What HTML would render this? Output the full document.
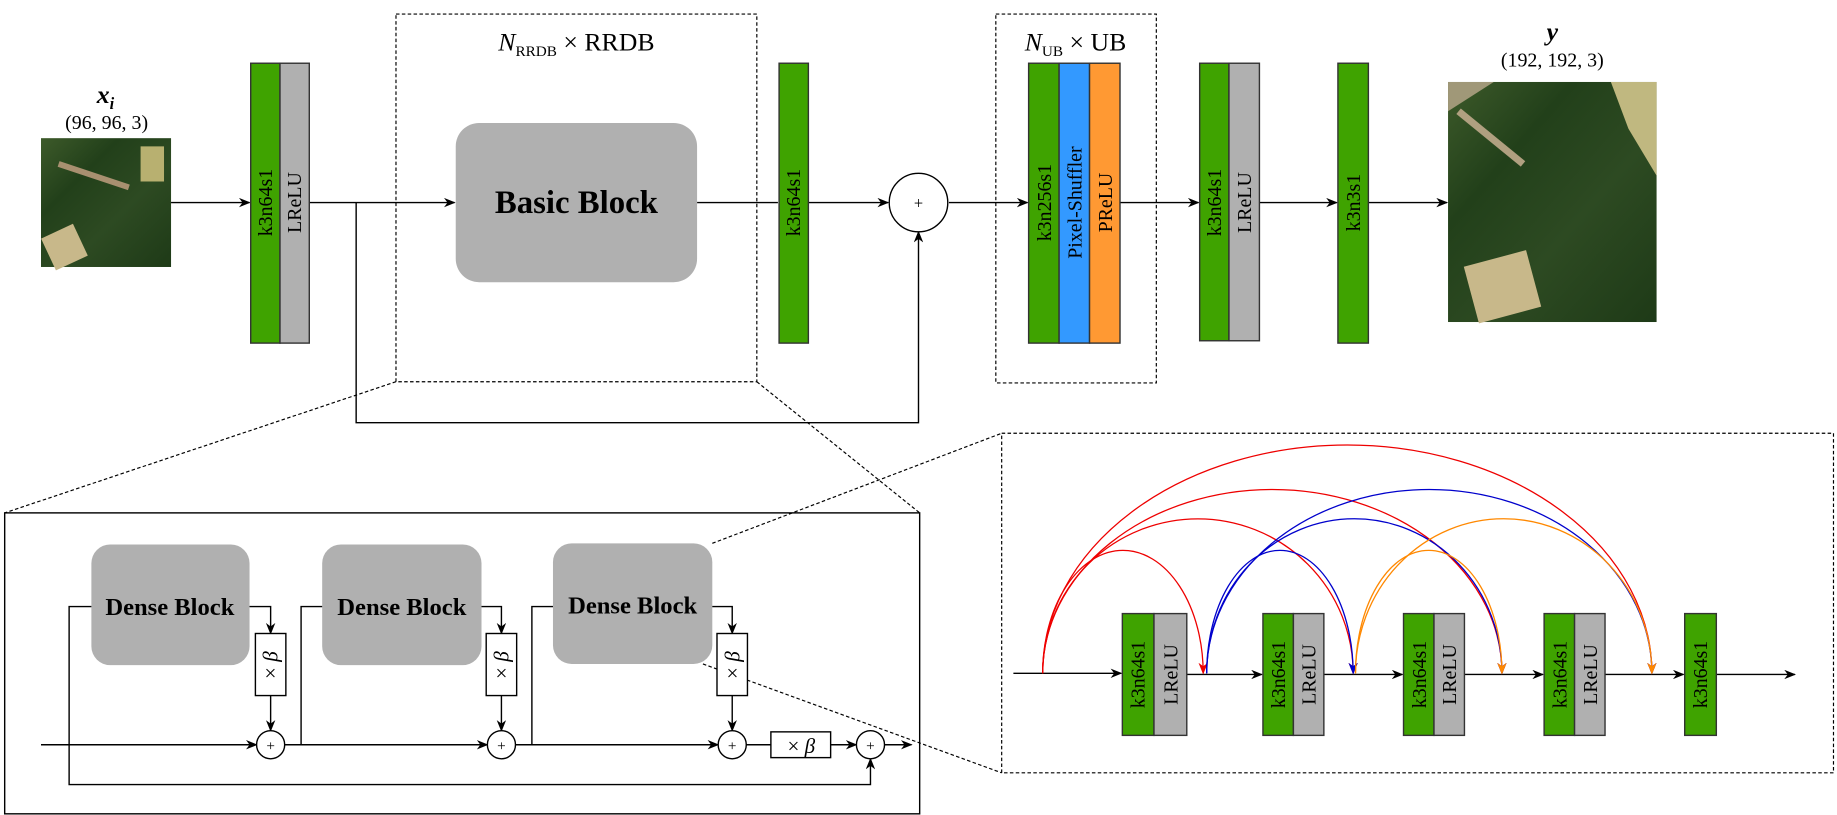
<!DOCTYPE html>
<html><head><meta charset="utf-8"><style>
body{margin:0;background:#fff}
svg{display:block}
text{font-family:"Liberation Serif",serif;fill:#000}
.lbl{font-size:17px}
</style></head><body>
<svg width="1837" height="815" viewBox="0 0 1568 696" preserveAspectRatio="none" xmlns="http://www.w3.org/2000/svg">
<defs>
<marker id="a" markerWidth="10" markerHeight="8" refX="9" refY="4" orient="auto" markerUnits="userSpaceOnUse"><path d="M0,0 L10,4 L0,8 L3,4 z" fill="#000"/></marker>
<marker id="ar" markerWidth="10" markerHeight="8" refX="9" refY="4" orient="auto" markerUnits="userSpaceOnUse"><path d="M0,0 L10,4 L0,8 L3,4 z" fill="#e00"/></marker>
<marker id="ab" markerWidth="10" markerHeight="8" refX="9" refY="4" orient="auto" markerUnits="userSpaceOnUse"><path d="M0,0 L10,4 L0,8 L3,4 z" fill="#00c"/></marker>
<marker id="ao" markerWidth="10" markerHeight="8" refX="9" refY="4" orient="auto" markerUnits="userSpaceOnUse"><path d="M0,0 L10,4 L0,8 L3,4 z" fill="#f80"/></marker>
<linearGradient id="img1" x1="0" y1="0" x2="1" y2="1"><stop offset="0" stop-color="#3d5a2a"/><stop offset="0.3" stop-color="#22401a"/><stop offset="0.6" stop-color="#2d4a22"/><stop offset="1" stop-color="#1e3a17"/></linearGradient>
</defs>
<g stroke="#000" stroke-width="1.2" fill="none">
<rect x="35" y="118" width="111" height="110" fill="url(#img1)" stroke="none"/>
<rect x="40" y="196" width="30" height="30" fill="#c8b88a" stroke="none" transform="rotate(-25 55 211)"/>
<path d="M50 140 L110 160" stroke="#a89070" stroke-width="5"/>
<rect x="120" y="125" width="20" height="30" fill="#b8b070" stroke="none"/>
<rect x="1236" y="70" width="178" height="205" fill="url(#img1)" stroke="none"/>
<rect x="1255" y="220" width="55" height="50" fill="#c8b88a" stroke="none" transform="rotate(-15 1282 245)"/>
<path d="M1245 95 L1300 140" stroke="#b0a080" stroke-width="6"/>
<path d="M1375 70 L1414 70 L1414 150 L1390 110 z" fill="#c0b880" stroke="none"/>
<path d="M1236 70 L1275 70 L1236 95 z" fill="#a09878" stroke="none"/>

<line x1="146" y1="173" x2="213" y2="173" marker-end="url(#a)"/>
<line x1="264" y1="173" x2="388" y2="173" marker-end="url(#a)"/>
<polyline points="304,173 304,361 784,361 784,198" marker-end="url(#a)"/>
<line x1="595" y1="173" x2="664" y2="173"/>
<line x1="690" y1="173" x2="758" y2="173" marker-end="url(#a)"/>
<line x1="810" y1="173" x2="877" y2="173" marker-end="url(#a)"/>
<line x1="956" y1="173" x2="1023" y2="173" marker-end="url(#a)"/>
<line x1="1075" y1="173" x2="1141" y2="173" marker-end="url(#a)"/>
<line x1="1168" y1="173" x2="1235" y2="173" marker-end="url(#a)"/>
<circle cx="784" cy="173" r="25" fill="#fff"/>

<g stroke-dasharray="3,2" stroke-width="1">
<rect x="338" y="12" width="308" height="314"/>
<rect x="850" y="12" width="137" height="315"/>
<rect x="855" y="370" width="710" height="290"/>
<line x1="338" y1="326" x2="4" y2="438"/>
<line x1="646" y1="326" x2="785" y2="438"/>
<line x1="608" y1="464" x2="855" y2="370"/>
<line x1="600" y1="567" x2="855" y2="660"/>
</g>

<g stroke="#333">
<rect x="214" y="54" width="25" height="239" fill="#3fa300"/>
<rect x="239" y="54" width="25" height="239" fill="#b0b0b0"/>
<rect x="665" y="54" width="25" height="239" fill="#3fa300"/>
<rect x="878" y="54" width="26" height="239" fill="#3fa300"/>
<rect x="904" y="54" width="26" height="239" fill="#3399ff"/>
<rect x="930" y="54" width="26" height="239" fill="#ff9933"/>
<rect x="1024" y="54" width="25" height="237" fill="#3fa300"/>
<rect x="1049" y="54" width="26" height="237" fill="#b0b0b0"/>
<rect x="1142" y="54" width="26" height="239" fill="#3fa300"/>
</g>
<rect x="389" y="105" width="206" height="136" rx="20" fill="#b0b0b0" stroke="none"/>

<rect x="4" y="438" width="781" height="257" stroke-width="1.2"/>
<rect x="78" y="465" width="135" height="103" rx="16" fill="#b0b0b0" stroke="none"/>
<rect x="275" y="465" width="136" height="103" rx="16" fill="#b0b0b0" stroke="none"/>
<rect x="472" y="464" width="136" height="103" rx="16" fill="#b0b0b0" stroke="none"/>
<line x1="35" y1="636" x2="219" y2="636" marker-end="url(#a)"/>
<line x1="243" y1="636" x2="416" y2="636" marker-end="url(#a)"/>
<line x1="440" y1="636" x2="613" y2="636" marker-end="url(#a)"/>
<line x1="637" y1="636" x2="658" y2="636"/>
<line x1="709" y1="636" x2="731" y2="636" marker-end="url(#a)"/>
<line x1="755" y1="636" x2="778" y2="636" marker-end="url(#a)"/>
<polyline points="78,518 59,518 59,670 743,670 743,648" marker-end="url(#a)"/>
<polyline points="257,636 257,518 275,518"/>
<polyline points="454,636 454,518 472,518"/>
<polyline points="213,518 231,518 231,541" marker-end="url(#a)"/>
<polyline points="411,518 428,518 428,541" marker-end="url(#a)"/>
<polyline points="608,518 625,518 625,541" marker-end="url(#a)"/>
<line x1="231" y1="594" x2="231" y2="624" marker-end="url(#a)"/>
<line x1="428" y1="594" x2="428" y2="624" marker-end="url(#a)"/>
<line x1="625" y1="594" x2="625" y2="624" marker-end="url(#a)"/>
<rect x="218" y="541" width="26" height="53" fill="#fff"/>
<rect x="415" y="541" width="26" height="53" fill="#fff"/>
<rect x="612" y="541" width="26" height="53" fill="#fff"/>
<rect x="658" y="625" width="51" height="22" fill="#fff"/>
<circle cx="231" cy="636" r="12" fill="#fff"/>
<circle cx="428" cy="636" r="12" fill="#fff"/>
<circle cx="625" cy="636" r="12" fill="#fff"/>
<circle cx="743" cy="636" r="12" fill="#fff"/>

<line x1="865" y1="575" x2="957" y2="575" marker-end="url(#a)"/>
<line x1="1013" y1="576" x2="1077" y2="576" marker-end="url(#a)"/>
<line x1="1130" y1="576" x2="1197" y2="576" marker-end="url(#a)"/>
<line x1="1250" y1="576" x2="1317" y2="576" marker-end="url(#a)"/>
<line x1="1370" y1="576" x2="1437" y2="576" marker-end="url(#a)"/>
<line x1="1465" y1="576" x2="1532" y2="576" marker-end="url(#a)"/>
<g stroke="#333">
<rect x="958" y="524" width="27" height="104" fill="#3fa300"/>
<rect x="985" y="524" width="28" height="104" fill="#b0b0b0"/>
<rect x="1078" y="524" width="26" height="104" fill="#3fa300"/>
<rect x="1104" y="524" width="26" height="104" fill="#b0b0b0"/>
<rect x="1198" y="524" width="26" height="104" fill="#3fa300"/>
<rect x="1224" y="524" width="26" height="104" fill="#b0b0b0"/>
<rect x="1318" y="524" width="26" height="104" fill="#3fa300"/>
<rect x="1344" y="524" width="26" height="104" fill="#b0b0b0"/>
<rect x="1438" y="524" width="27" height="104" fill="#3fa300"/>
</g>
<g stroke-width="1.1">
<path d="M890 575 A68.5 105 0 0 1 1027 575" stroke="#e00" marker-end="url(#ar)"/>
<path d="M890 575 A132.5 132 0 0 1 1155 575" stroke="#e00" marker-end="url(#ar)"/>
<path d="M890 575 A196 157 0 0 1 1282 575" stroke="#e00" marker-end="url(#ar)"/>
<path d="M890 575 A260 195 0 0 1 1410 575" stroke="#e00" marker-end="url(#ar)"/>
<path d="M1030 575 A62.5 105 0 0 1 1155 575" stroke="#00c" marker-end="url(#ab)"/>
<path d="M1030 575 A126 132 0 0 1 1282 575" stroke="#00c" marker-end="url(#ab)"/>
<path d="M1030 575 A190 157 0 0 1 1410 575" stroke="#00c" marker-end="url(#ab)"/>
<path d="M1157 575 A62.5 105 0 0 1 1282 575" stroke="#f80" marker-end="url(#ao)"/>
<path d="M1157 575 A126.5 132 0 0 1 1410 575" stroke="#f80" marker-end="url(#ao)"/>
</g>
</g>

<text x="90" y="88" font-size="22" font-style="italic" font-weight="bold" text-anchor="middle">x<tspan font-size="14" dy="5">i</tspan></text>
<text x="91" y="110" font-size="17" text-anchor="middle">(96, 96, 3)</text>
<text x="1325" y="34" font-size="22" font-style="italic" font-weight="bold" text-anchor="middle">y</text>
<text x="1325" y="57" font-size="17" text-anchor="middle">(192, 192, 3)</text>
<text x="492" y="43" font-size="22" text-anchor="middle"><tspan font-style="italic">N</tspan><tspan font-size="13" dy="5">RRDB</tspan><tspan dy="-5"> × RRDB</tspan></text>
<text x="918" y="43" font-size="22" text-anchor="middle"><tspan font-style="italic">N</tspan><tspan font-size="13" dy="5">UB</tspan><tspan dy="-5"> × UB</tspan></text>
<text x="492" y="182" font-size="28" font-weight="bold" text-anchor="middle">Basic Block</text>
<text x="784" y="178" font-size="14" text-anchor="middle">+</text>
<g font-size="21" font-weight="bold" text-anchor="middle">
<text x="145" y="525">Dense Block</text>
<text x="343" y="525">Dense Block</text>
<text x="540" y="524">Dense Block</text>
</g>
<g font-size="13" text-anchor="middle">
<text x="231" y="641">+</text><text x="428" y="641">+</text><text x="625" y="641">+</text><text x="743" y="641">+</text>
</g>
<text x="684" y="643" font-size="18" text-anchor="middle">× <tspan font-style="italic">β</tspan></text>
<g font-size="18" text-anchor="middle">
<text transform="translate(237 568) rotate(-90)">× <tspan font-style="italic">β</tspan></text>
<text transform="translate(434 568) rotate(-90)">× <tspan font-style="italic">β</tspan></text>
<text transform="translate(631 568) rotate(-90)">× <tspan font-style="italic">β</tspan></text>
</g>
<g class="lbl" text-anchor="middle">
<text transform="translate(232 173) rotate(-90)">k3n64s1</text>
<text transform="translate(257 173) rotate(-90)">LReLU</text>
<text transform="translate(683 173) rotate(-90)">k3n64s1</text>
<text transform="translate(897 173) rotate(-90)">k3n256s1</text>
<text transform="translate(923 173) rotate(-90)">Pixel-Shuffler</text>
<text transform="translate(949 173) rotate(-90)">PReLU</text>
<text transform="translate(1042 173) rotate(-90)">k3n64s1</text>
<text transform="translate(1068 173) rotate(-90)">LReLU</text>
<text transform="translate(1161 173) rotate(-90)">k3n3s1</text>
<text transform="translate(977 576) rotate(-90)">k3n64s1</text>
<text transform="translate(1005 576) rotate(-90)">LReLU</text>
<text transform="translate(1097 576) rotate(-90)">k3n64s1</text>
<text transform="translate(1123 576) rotate(-90)">LReLU</text>
<text transform="translate(1217 576) rotate(-90)">k3n64s1</text>
<text transform="translate(1243 576) rotate(-90)">LReLU</text>
<text transform="translate(1337 576) rotate(-90)">k3n64s1</text>
<text transform="translate(1363 576) rotate(-90)">LReLU</text>
<text transform="translate(1457 576) rotate(-90)">k3n64s1</text>
</g>
</svg>
</body></html>
